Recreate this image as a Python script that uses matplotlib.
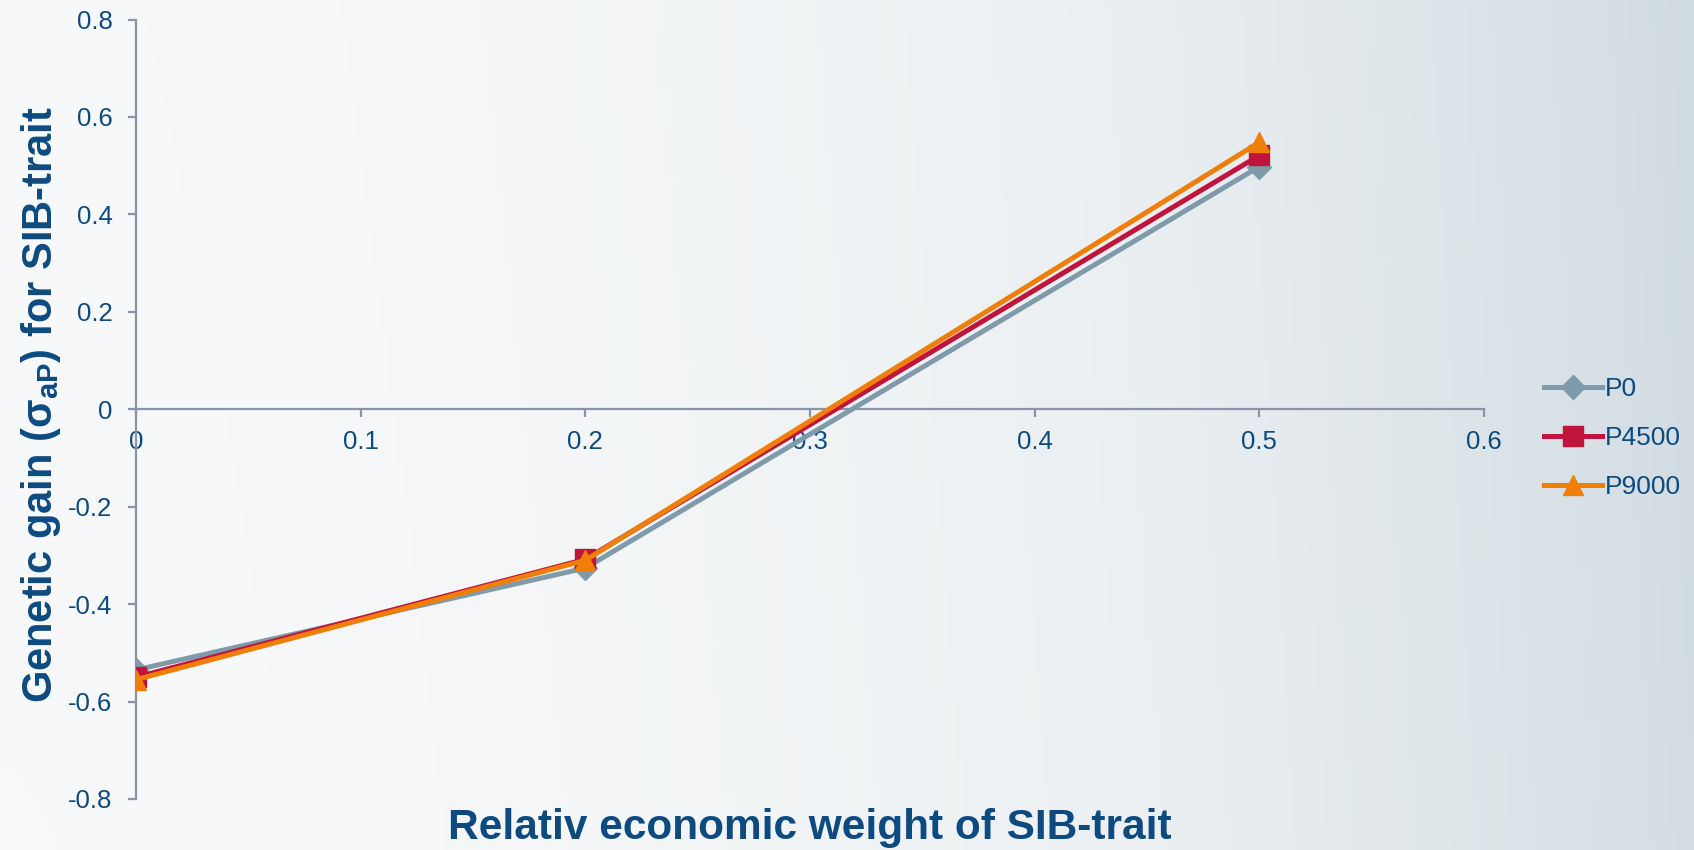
import numpy as np
import matplotlib
matplotlib.use('Agg')
import matplotlib.pyplot as plt
from matplotlib.colors import LinearSegmentedColormap

# economic weight of SIB-trait vs genetic gain
weights = [0.0, 0.2, 0.5]
p0 = [-0.535, -0.326, 0.498]
p4500 = [-0.550, -0.308, 0.521]
p9000 = [-0.555, -0.310, 0.548]
series_names = ['P0', 'P4500', 'P9000']

xticks = [0, 0.1, 0.2, 0.3, 0.4, 0.5, 0.6]
yticks = [-0.8, -0.6, -0.4, -0.2, 0, 0.2, 0.4, 0.6, 0.8]

navy = '#0d4a80'
plt.rcParams['font.family'] = ['Liberation Sans', 'DejaVu Sans']
plt.rcParams['mathtext.fontset'] = 'custom'
plt.rcParams['mathtext.rm'] = 'Liberation Sans'
plt.rcParams['mathtext.bf'] = 'Liberation Sans:bold'

fig = plt.figure(figsize=(16.94, 8.5), dpi=100)

# slide background: light gradient towards the right
bg = fig.add_axes([0, 0, 1, 1], zorder=-10)
gx = np.linspace(0, 1, 400)
gy = np.linspace(0, 1, 200)
X, Y = np.meshgrid(gx, gy)
G = np.clip(X ** 1.6 * 0.95 + (1 - Y) * 0.04, 0, 1)
cmap = LinearSegmentedColormap.from_list('bgc', ['#f8f9fa', '#ecf0f2', '#d1dce2'])
bg.imshow(G, cmap=cmap, aspect='auto', extent=[0, 1, 0, 1], origin='upper')
bg.axis('off')

ax = fig.add_axes([0.0803, 0.06, 0.7957, 0.917])
ax.patch.set_alpha(0)

ax.plot(weights, p0, color='#7f9aab', lw=3.6, marker='D', ms=12,
        label=series_names[0], zorder=3)
ax.plot(weights, p4500, color='#c0143c', lw=3.6, marker='s', ms=14,
        label=series_names[1], zorder=4)
ax.plot(weights, p9000, color='#f07f09', lw=3.6, marker='^', ms=15,
        label=series_names[2], zorder=5)

ax.set_xlim(0, 0.6)
ax.set_ylim(-0.8, 0.8)
ax.set_xticks(xticks)
ax.set_xticklabels(['0', '0.1', '0.2', '0.3', '0.4', '0.5', '0.6'])
ax.set_yticks(yticks)
ax.set_yticklabels(['-0.8', '-0.6', '-0.4', '-0.2', '0', '0.2', '0.4', '0.6', '0.8'])

for s in ['top', 'right']:
    ax.spines[s].set_visible(False)
ax.spines['bottom'].set_position(('data', 0))
ax.spines['left'].set_position(('data', 0))
for s in ['bottom', 'left']:
    ax.spines[s].set_color('#8a93a8')
    ax.spines[s].set_linewidth(1.6)

ax.tick_params(axis='both', colors='#8a93a8', labelcolor=navy, labelsize=18.5,
               length=6, width=1.6, direction='out')
ax.tick_params(axis='x', pad=9)
ax.tick_params(axis='y', pad=11)

fig.text(0.478, 0.026, 'Relativ economic weight of SIB-trait', ha='center',
         va='center', fontsize=30.5, fontweight='bold', color=navy)
fig.text(0.024, 0.5235, r'Genetic gain (σ$_{\mathbf{aP}}$) for SIB-trait',
         ha='center', va='center', rotation=90, fontsize=30,
         fontweight='bold', color=navy)

leg = ax.legend(loc='center left', bbox_to_anchor=(1.027, 0.463), frameon=False,
                fontsize=19, labelcolor=navy, handlelength=2.2,
                handletextpad=0.1, labelspacing=0.95)

fig.savefig('out.png', dpi=100)
